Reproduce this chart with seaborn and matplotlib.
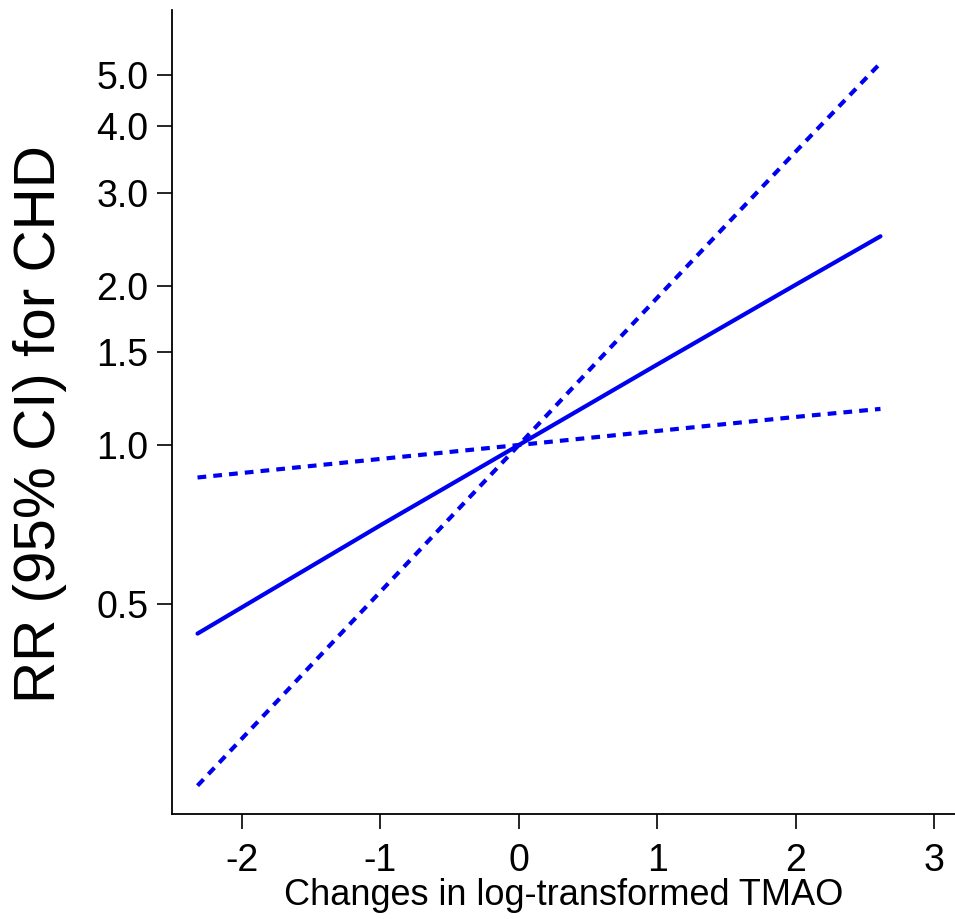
import numpy as np
import pandas as pd
import matplotlib
matplotlib.use("Agg")
import matplotlib.pyplot as plt
import seaborn as sns
from matplotlib.ticker import FixedLocator, NullLocator, FixedFormatter

# ---- data ----
tmao_change = [-2.32, -1.0, 0.0, 1.0, 2.0, 2.61]
rr_estimate = [0.44, 0.705, 1.00, 1.42, 2.01, 2.48]
rr_upper = [0.227, 0.528, 1.00, 1.90, 3.59, 5.27]
rr_lower = [0.868, 0.941, 1.00, 1.063, 1.13, 1.17]

y_ticks = [0.5, 1.0, 1.5, 2.0, 3.0, 4.0, 5.0]
y_tick_labels = ["0.5", "1.0", "1.5", "2.0", "3.0", "4.0", "5.0"]
x_ticks = [-2, -1, 0, 1, 2, 3]
x_tick_labels = ["-2", "-1", "0", "1", "2", "3"]

sns.set_theme(style="ticks")
plt.rcParams["font.family"] = ["Liberation Sans", "DejaVu Sans"]

df = pd.concat([
    pd.DataFrame({"x": tmao_change, "rr": rr_estimate, "series": "RR"}),
    pd.DataFrame({"x": tmao_change, "rr": rr_upper, "series": "Upper"}),
    pd.DataFrame({"x": tmao_change, "rr": rr_lower, "series": "Lower"}),
], ignore_index=True)

fig = plt.figure(figsize=(9.55, 9.19), dpi=100)
ax = fig.add_axes([0.180, 0.1143, 0.82, 0.8748])

blue = "#0000f0"
dash = (2.1, 1.7)
sns.lineplot(data=df, x="x", y="rr", style="series", units="series",
             estimator=None, color=blue, linewidth=3.0,
             dashes={"RR": "", "Upper": dash, "Lower": dash},
             legend=False, ax=ax)

ax.set_yscale("log")
ax.set_xlim(-2.505, 3.148)
ax.set_ylim(0.2007, 6.64)

ax.yaxis.set_major_locator(FixedLocator(y_ticks))
ax.yaxis.set_major_formatter(FixedFormatter(y_tick_labels))
ax.yaxis.set_minor_locator(NullLocator())
ax.set_xticks(x_ticks)
ax.set_xticklabels(x_tick_labels)

for s in ["top", "right"]:
    ax.spines[s].set_visible(False)
for s in ["left", "bottom"]:
    ax.spines[s].set_linewidth(1.3)
    ax.spines[s].set_color("black")

ax.tick_params(axis="both", which="major", direction="out", length=11,
               width=1.2, color="black", labelsize=27, labelcolor="black")
ax.tick_params(axis="y", pad=6)
ax.tick_params(axis="x", pad=10)

ax.set_xlabel("Changes in log-transformed TMAO", fontsize=26, labelpad=-1, color="black")
ax.set_ylabel("RR (95% CI) for CHD", fontsize=42, labelpad=21, color="black")
ax.yaxis.label.set_y(0.485)

fig.savefig("out.png", dpi=100, facecolor="white")
